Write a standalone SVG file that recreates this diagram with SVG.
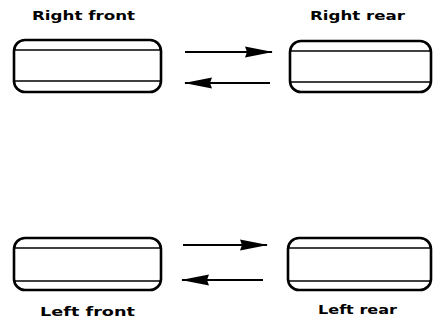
<svg xmlns="http://www.w3.org/2000/svg" width="434" height="324" viewBox="0 0 434 324">
<style>
.bg{fill:#fff}
.tire{fill:none;stroke:#000;stroke-width:2.6}
.tread{stroke:#000;stroke-width:1.5}
.lbl{font-family:"DejaVu Sans","Liberation Sans",sans-serif;font-weight:bold;font-size:13px;fill:#000}
.arr{stroke:#000;stroke-width:2;fill:none;marker-end:url(#head)}
</style>
<defs>
<marker id="head" viewBox="0 0 28 12" refX="27" refY="6" markerWidth="28" markerHeight="12" markerUnits="userSpaceOnUse" orient="auto">
<path d="M0,0.5 L28,6 L0,11.5 L2,6 z" fill="#000"/>
</marker>
</defs>
<rect class="bg" width="434" height="324"/>
<g id="right-front">
<rect class="tire" x="14" y="40" width="147" height="52" rx="11"/>
<line class="tread" x1="15" y1="50" x2="160" y2="50"/>
<line class="tread" x1="15" y1="81" x2="160" y2="81"/>
<text class="lbl" x="32" y="19.5" textLength="103" lengthAdjust="spacingAndGlyphs">Right front</text>
</g>
<g id="right-rear">
<rect class="tire" x="290" y="41" width="141" height="51" rx="11"/>
<line class="tread" x1="291" y1="51" x2="430" y2="51"/>
<line class="tread" x1="291" y1="82" x2="430" y2="82"/>
<text class="lbl" x="310" y="19.5" textLength="95" lengthAdjust="spacingAndGlyphs">Right rear</text>
</g>
<g id="left-front">
<rect class="tire" x="14" y="238" width="147" height="52" rx="11"/>
<line class="tread" x1="15" y1="248" x2="160" y2="248"/>
<line class="tread" x1="15" y1="281" x2="160" y2="281"/>
<text class="lbl" x="40" y="316" textLength="95" lengthAdjust="spacingAndGlyphs">Left front</text>
</g>
<g id="left-rear">
<rect class="tire" x="288" y="238" width="143" height="52" rx="11"/>
<line class="tread" x1="289" y1="248" x2="430" y2="248"/>
<line class="tread" x1="289" y1="281" x2="430" y2="281"/>
<text class="lbl" x="318" y="314" textLength="79" lengthAdjust="spacingAndGlyphs">Left rear</text>
</g>
<g id="connectors">
<line class="arr" x1="185" y1="52" x2="272" y2="52"/>
<line class="arr" x1="270" y1="83" x2="185" y2="83"/>
<line class="arr" x1="183" y1="245" x2="267" y2="245"/>
<line class="arr" x1="263" y1="280" x2="182" y2="280"/>
</g>
</svg>
